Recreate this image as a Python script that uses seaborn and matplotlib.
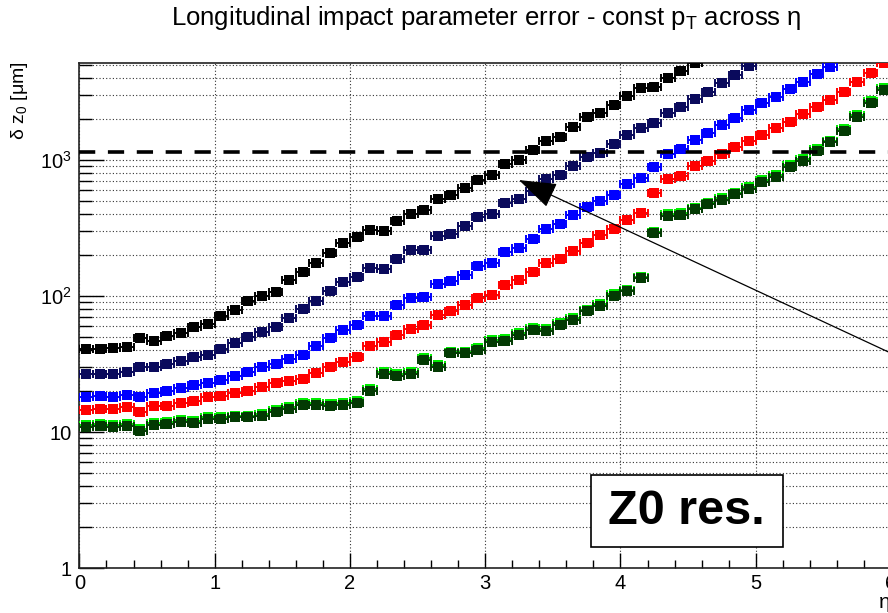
import numpy as np
import pandas as pd
import matplotlib
matplotlib.use("Agg")
import matplotlib.pyplot as plt
import seaborn as sns
from matplotlib.ticker import FixedLocator, FixedFormatter, MultipleLocator, LogLocator, NullFormatter
from matplotlib.patches import Rectangle

# ---------------- data ----------------
eta = [0.05, 0.15, 0.25, 0.35, 0.45, 0.55, 0.65, 0.75, 0.85, 0.95,
       1.05, 1.15, 1.25, 1.35, 1.45, 1.55, 1.65, 1.75, 1.85, 1.95,
       2.05, 2.15, 2.25, 2.35, 2.45, 2.55, 2.65, 2.75, 2.85, 2.95,
       3.05, 3.15, 3.25, 3.35, 3.45, 3.55, 3.65, 3.75, 3.85, 3.95,
       4.05, 4.15, 4.25, 4.35, 4.45, 4.55, 4.65, 4.75, 4.85, 4.95,
       5.05, 5.15, 5.25, 5.35, 5.45, 5.55, 5.65, 5.75, 5.85, 5.95]

black = [40.6, 40.6, 41.2, 42.0, 49.4, 46.7, 51.1, 53.7, 58.9, 62.5,
         71.6, 79.3, 92.3, 100.5, 107.6, 131, 151, 174, 208, 244,
         270, 304, 299, 356, 403, 427, 517, 556, 619, 716,
         780, 935, 1005, 1186, 1381, 1484, 1750, 2062, 2205, 2536,
         2970, 3366, 3458, 4028, 4511, 5193]

navy = [26.8, 26.8, 26.8, 27.5, 29.9, 29.9, 31.5, 33.5, 35.8, 36.8,
        41.0, 45.4, 50.0, 54.6, 58.9, 68.6, 79.8, 91.9, 109, 127,
        139, 160, 157, 188, 217, 219, 277, 286, 326, 379,
        403, 481, 517, 597, 721, 776, 899, 1058, 1132, 1312,
        1536, 1711, 1881, 2205, 2453, 2825, 3179, 3664, 4239, 4911]

blue = [18.0, 18.5, 18.2, 18.7, 18.2, 19.5, 20.1, 21.0, 22.0, 22.9,
        24.1, 25.8, 27.5, 29.9, 31.6, 34.6, 36.8, 42.9, 49.3, 56.2,
        61.2, 71.6, 71.6, 85.9, 97.2, 98.8, 122, 129, 144, 167,
        175, 210, 224, 263, 311, 338, 392, 449, 502, 556,
        663, 741, 893, 1102, 1211, 1415, 1571, 1808, 2047, 2319,
        2637, 2919, 3310, 3764, 4267, 4853]

red = [14.5, 14.7, 14.7, 15.2, 14.1, 15.5, 15.5, 16.4, 17.0, 18.0,
       18.5, 19.5, 19.9, 21.3, 22.8, 23.8, 24.7, 27.3, 30.2, 32.7,
       35.8, 42.7, 46.2, 51.9, 56.9, 60.9, 72.1, 77.2, 85.4, 97.2,
       102, 120, 131, 149, 176, 187, 215, 245, 279, 309,
       362, 405, 575, 729, 767, 903, 984, 1107, 1240, 1387,
       1527, 1711, 1914, 2168, 2441, 2761, 3179, 3748, 4388, 5143]

lime = [11.2, 11.4, 11.2, 11.4, 10.5, 11.6, 11.8, 12.2, 12.0, 12.9,
        12.8, 13.2, 13.2, 13.5, 14.4, 15.2, 16.3, 16.3, 16.0, 16.3,
        16.8, 20.7, 27.5, 26.6, 27.6, 34.8, 31.1, 39.0, 39.0, 41.3,
        47.5, 48.1, 53.3, 58.2, 57.0, 63.3, 68.6, 79.5, 86.9, 103,
        111, 139, 298, 400, 406, 447, 486, 523, 577, 633,
        710, 777, 920, 1018, 1205, 1389, 1692, 2144, 2716, 3370]

dkgreen = [10.9, 11.1, 10.9, 11.1, 10.2, 11.3, 11.5, 11.9, 11.7, 12.5,
           12.4, 12.8, 12.8, 13.1, 14.0, 14.8, 15.8, 15.8, 15.5, 15.8,
           16.3, 20.1, 26.7, 25.8, 26.8, 33.8, 30.2, 37.9, 37.9, 40.1,
           46.1, 46.7, 51.7, 56.5, 55.3, 61.5, 66.6, 77.2, 84.4, 100,
           108, 135, 289, 388, 394, 434, 472, 508, 560, 615,
           689, 754, 893, 988, 1170, 1349, 1643, 2082, 2637, 3272]

series_names = ["black", "navy", "blue", "red", "lime", "dkgreen"]
series_vals = [black, navy, blue, red, lime, dkgreen]
series_colors = {"black": "#000000", "navy": "#0a0a5c", "blue": "#0000ff",
                 "red": "#ff0000", "lime": "#00ee00", "dkgreen": "#033a03"}

bin_half_width = 0.05
limit_line = 1150
arrow_tip = (3.249, 713)
arrow_tail = (6.3, 27.6)

title = "Longitudinal impact parameter error - const p$_\\mathregular{T}$ across η"
ylabel = "δ z$_\\mathregular{0}$ [μm]"
xlabel = "η"
box_text = "Z0 res."
ytick_vals = [1, 10, 100, 1000]
ytick_labels = ["1", "10", "10$^\\mathregular{2}$", "10$^\\mathregular{3}$"]
xtick_vals = [0, 1, 2, 3, 4, 5, 6]

# ---------------- style ----------------
sns.set_style("ticks")
plt.rcParams["font.family"] = ["Liberation Sans", "DejaVu Sans"]
plt.rcParams["mathtext.fontset"] = "custom"
plt.rcParams["mathtext.rm"] = "Liberation Sans"
plt.rcParams["mathtext.it"] = "Liberation Sans:italic"
plt.rcParams["mathtext.bf"] = "Liberation Sans:bold"
plt.rcParams["text.color"] = "black"
plt.rcParams["xtick.color"] = "black"
plt.rcParams["ytick.color"] = "black"

W, H = 888, 613
fig = plt.figure(figsize=(W / 100, H / 100), dpi=100)
fig.patch.set_facecolor("white")
x0, x6 = 79.4, 891.0
ytop, ybot = 62.7, 568.0
ax = fig.add_axes([x0 / W, 1 - ybot / H, (x6 - x0) / W, (ybot - ytop) / H])

for name, vals in zip(series_names, series_vals):
    n = len(vals)
    ax.errorbar(eta[:n], vals, xerr=bin_half_width, fmt="none",
                ecolor=series_colors[name], elinewidth=1.4, capsize=2.8,
                capthick=1.4, zorder=3)
    sns.scatterplot(x=eta[:n], y=vals, color=series_colors[name], marker="s",
                    s=55, linewidth=0, ax=ax, zorder=4, legend=False)

ax.set_yscale("log")
ax.set_xlim(0, 6)
ax.set_ylim(1, 5200)
ax.set_xlabel("")
ax.set_ylabel("")

ax.axhline(limit_line, color="k", lw=2.6, ls=(0, (4.5, 3.5)), zorder=5)

ax.annotate("", xy=arrow_tip, xytext=arrow_tail, annotation_clip=False,
            arrowprops=dict(arrowstyle="-|>,head_length=1.6,head_width=0.55",
                            mutation_scale=15, lw=0.9, color="k",
                            shrinkA=0, shrinkB=0), zorder=6)

# ticks
ax.yaxis.set_major_locator(FixedLocator(ytick_vals))
ax.yaxis.set_major_formatter(FixedFormatter(ytick_labels))
ax.yaxis.set_minor_locator(LogLocator(base=10, subs=np.arange(2, 10)))
ax.yaxis.set_minor_formatter(NullFormatter())
ax.xaxis.set_major_locator(FixedLocator(xtick_vals))
ax.xaxis.set_minor_locator(MultipleLocator(0.2))
ax.tick_params(axis="y", which="major", direction="in", length=18, width=1.0,
               labelsize=14.5, pad=5.5)
ax.tick_params(axis="y", which="minor", direction="in", length=9, width=1.0)
ax.tick_params(axis="x", which="major", direction="in", length=11, width=1.0,
               labelsize=14.5, pad=4.5)
ax.tick_params(axis="x", which="minor", direction="in", length=5.5, width=1.0)

ax.grid(which="major", axis="x", ls=(0, (1, 2)), color="#333333", lw=0.8)
ax.grid(which="both", axis="y", ls=(0, (1, 2)), color="#333333", lw=0.8)
ax.set_axisbelow(True)
for sp in ax.spines.values():
    sp.set_linewidth(1.2)
    sp.set_color("#222222")

# texts
fig.text(486 / W, 1 - 18 / H, title, ha="center", va="center", fontsize=18.5)
fig.text(19 / W, 1 - 61 / H, ylabel, ha="center", va="top", rotation=90, fontsize=14)
fig.text(879 / W, 1 - 603 / H, xlabel, ha="left", va="center", fontsize=15)

rect = Rectangle((591 / W, 1 - 547 / H), (783 - 591) / W, (547 - 475) / H,
                 transform=fig.transFigure, facecolor="white", edgecolor="k",
                 lw=1.2, zorder=10)
fig.patches.append(rect)
fig.text(686 / W, 1 - 511 / H, box_text, ha="center", va="center",
         fontsize=35, fontweight="bold", color="black", zorder=11)

fig.savefig("out.png", dpi=100)
